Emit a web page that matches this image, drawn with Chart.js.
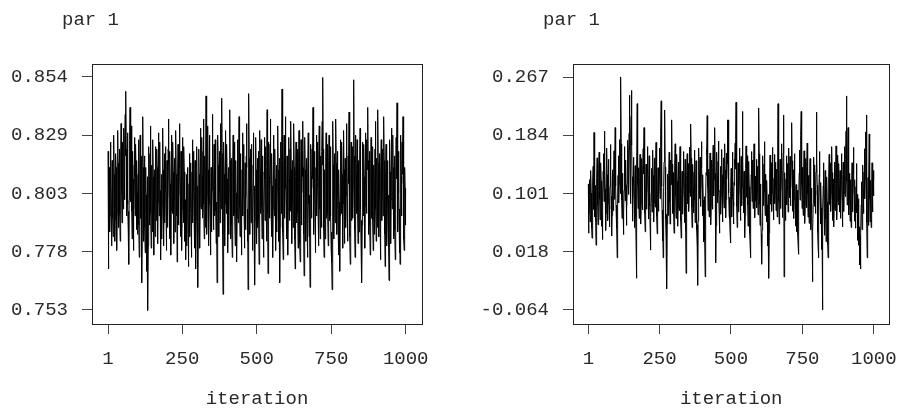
<!DOCTYPE html>
<html>
<head>
<meta charset="utf-8">
<script src="https://cdn.jsdelivr.net/npm/chart.js@4.4.1/dist/chart.umd.min.js"></script>
<style>
  html, body { margin: 0; padding: 0; background: #ffffff; }
  body { width: 911px; height: 408px; position: relative; overflow: hidden; }
  canvas { position: absolute; top: 0; }
</style>
</head>
<body>
<canvas id="c1" width="455" height="408" style="left:0px"></canvas>
<canvas id="c2" width="456" height="408" style="left:455px"></canvas>
<script>
// ---- data ----
const panelTitles = ["par 1", "par 1"];
const xTitle = "iteration";
const xTicks = [1, 250, 500, 750, 1000];
const xTickLabels = ["1", "250", "500", "750", "1000"];

const yTicksLeft = [0.7532, 0.7785, 0.8037, 0.8290, 0.8542];
const yTickLabelsLeft = ["0.753", "0.778", "0.803", "0.829", "0.854"];
const yTicksRight = [-0.0641, 0.0186, 0.1014, 0.1841, 0.2669];
const yTickLabelsRight = ["-0.064", "0.018", "0.101", "0.184", "0.267"];

const traceLeft = [
0.822,0.771,0.790,0.806,0.815,0.801,0.787,0.794,0.812,0.826,0.809,0.796,0.781,0.799,0.818,0.811,0.793,0.785,0.803,0.820,
0.829,0.812,0.797,0.783,0.792,0.808,0.821,0.815,0.798,0.786,0.779,0.795,0.811,0.831,0.817,0.802,0.789,0.806,0.823,0.810,
0.795,0.783,0.800,0.819,0.834,0.822,0.805,0.791,0.808,0.826,0.813,0.797,0.815,0.832,0.819,0.801,0.811,0.829,0.838,0.820,
0.848,0.823,0.807,0.794,0.812,0.830,0.818,0.799,0.787,0.796,0.773,0.801,0.819,0.827,0.841,0.816,0.800,0.812,0.833,0.814,
0.796,0.784,0.803,0.822,0.810,0.792,0.779,0.797,0.816,0.828,0.811,0.794,0.806,0.825,0.813,0.788,0.799,0.818,0.804,0.786,
0.791,0.812,0.827,0.808,0.790,0.776,0.795,0.814,0.829,0.809,0.793,0.805,0.820,0.798,0.765,0.788,0.810,0.837,0.815,0.797,
0.783,0.801,0.820,0.806,0.789,0.778,0.796,0.815,0.803,0.784,0.770,0.792,0.811,0.797,0.753,0.781,0.806,0.824,0.809,0.790,
0.802,0.821,0.833,0.812,0.795,0.780,0.799,0.816,0.804,0.787,0.808,0.827,0.811,0.793,0.777,0.796,0.814,0.800,0.785,0.805,
0.824,0.810,0.792,0.806,0.823,0.815,0.797,0.782,0.800,0.818,0.830,0.813,0.794,0.808,0.826,0.805,0.788,0.775,0.795,0.812,
0.800,0.784,0.798,0.817,0.832,0.814,0.796,0.781,0.802,0.821,0.809,0.791,0.805,0.824,0.811,0.793,0.779,0.799,0.818,0.807,
0.789,0.802,0.823,0.836,0.817,0.798,0.784,0.803,0.822,0.808,0.790,0.777,0.796,0.815,0.829,0.811,0.795,0.809,0.826,0.813,
0.797,0.782,0.801,0.819,0.805,0.787,0.800,0.816,0.831,0.812,0.794,0.808,0.774,0.793,0.811,0.825,0.806,0.790,0.803,0.820,
0.834,0.815,0.798,0.785,0.803,0.822,0.810,0.792,0.779,0.797,0.816,0.828,0.809,0.791,0.805,0.824,0.813,0.796,0.783,0.801,
0.787,0.775,0.794,0.812,0.799,0.781,0.796,0.815,0.804,0.786,0.772,0.790,0.808,0.821,0.803,0.785,0.798,0.817,0.806,0.788,
0.776,0.795,0.813,0.827,0.809,0.791,0.805,0.822,0.811,0.793,0.780,0.799,0.818,0.804,0.786,0.771,0.792,0.810,0.824,0.807,
0.790,0.779,0.763,0.788,0.806,0.823,0.812,0.794,0.780,0.798,0.817,0.832,0.815,0.797,0.810,0.828,0.811,0.793,0.804,0.822,
0.836,0.817,0.799,0.784,0.802,0.820,0.806,0.789,0.812,0.846,0.818,0.800,0.786,0.803,0.821,0.833,0.814,0.796,0.781,0.799,
0.816,0.829,0.810,0.792,0.777,0.797,0.815,0.803,0.787,0.805,0.824,0.838,0.819,0.801,0.788,0.807,0.825,0.812,0.794,0.808,
0.827,0.814,0.796,0.782,0.800,0.789,0.765,0.793,0.811,0.829,0.816,0.798,0.785,0.804,0.822,0.809,0.791,0.806,0.834,0.815,
0.797,0.819,0.845,0.821,0.802,0.786,0.760,0.790,0.809,0.826,0.812,0.794,0.781,0.799,0.817,0.831,0.813,0.795,0.808,0.825,
0.810,0.792,0.778,0.797,0.815,0.803,0.786,0.805,0.823,0.840,0.818,0.799,0.784,0.801,0.819,0.807,0.790,0.776,0.796,0.814,
0.829,0.811,0.794,0.808,0.826,0.813,0.795,0.781,0.800,0.818,0.804,0.787,0.774,0.793,0.812,0.827,0.809,0.791,0.806,0.824,
0.837,0.816,0.798,0.785,0.803,0.821,0.808,0.790,0.777,0.796,0.814,0.830,0.812,0.794,0.807,0.825,0.811,0.793,0.780,0.799,
0.817,0.805,0.788,0.802,0.820,0.834,0.815,0.797,0.783,0.795,0.762,0.791,0.812,0.847,0.819,0.801,0.786,0.804,0.823,0.809,
0.791,0.806,0.825,0.812,0.794,0.779,0.798,0.816,0.830,0.811,0.793,0.807,0.788,0.764,0.792,0.810,0.828,0.814,0.796,0.782,
0.801,0.819,0.806,0.789,0.803,0.822,0.792,0.773,0.797,0.815,0.831,0.813,0.795,0.809,0.827,0.816,0.798,0.784,0.802,0.820,
0.807,0.790,0.776,0.795,0.813,0.828,0.810,0.792,0.806,0.824,0.812,0.796,0.783,0.815,0.840,0.818,0.795,0.769,0.791,0.810,
0.826,0.811,0.793,0.808,0.825,0.836,0.817,0.799,0.785,0.803,0.821,0.807,0.789,0.776,0.797,0.815,0.829,0.812,0.794,0.806,
0.823,0.810,0.792,0.779,0.798,0.816,0.804,0.787,0.805,0.822,0.833,0.814,0.796,0.783,0.801,0.819,0.791,0.765,0.789,0.808,
0.826,0.813,0.795,0.818,0.849,0.821,0.802,0.787,0.775,0.796,0.814,0.829,0.811,0.793,0.806,0.824,0.837,0.816,0.798,0.784,
0.802,0.820,0.808,0.790,0.777,0.797,0.815,0.828,0.810,0.792,0.805,0.823,0.812,0.796,0.835,0.814,0.797,0.782,0.800,0.818,
0.806,0.789,0.803,0.821,0.834,0.815,0.798,0.784,0.771,0.793,0.811,0.826,0.809,0.791,0.805,0.823,0.812,0.795,0.780,0.799,
0.817,0.831,0.813,0.796,0.782,0.774,0.794,0.812,0.827,0.808,0.790,0.804,0.822,0.811,0.835,0.815,0.797,0.786,0.768,0.792,
0.810,0.828,0.814,0.797,0.783,0.801,0.819,0.807,0.789,0.776,0.795,0.813,0.830,0.816,0.799,0.785,0.803,0.787,0.763,0.791,
0.809,0.825,0.811,0.793,0.806,0.823,0.810,0.820,0.841,0.818,0.800,0.786,0.804,0.822,0.808,0.791,0.778,0.797,0.815,0.829,
0.812,0.794,0.807,0.826,0.813,0.795,0.781,0.800,0.818,0.833,0.815,0.797,0.784,0.802,0.820,0.806,0.789,0.804,0.822,0.835,
0.816,0.854,0.823,0.805,0.788,0.776,0.796,0.814,0.801,0.784,0.799,0.817,0.830,0.811,0.793,0.807,0.825,0.812,0.795,0.781,
0.800,0.818,0.829,0.810,0.792,0.806,0.824,0.811,0.794,0.779,0.787,0.774,0.762,0.789,0.808,0.835,0.816,0.798,0.784,0.803,
0.821,0.809,0.791,0.805,0.823,0.836,0.817,0.799,0.786,0.804,0.822,0.808,0.790,0.777,0.796,0.814,0.800,0.783,0.770,0.794,
0.812,0.827,0.813,0.795,0.809,0.826,0.812,0.794,0.780,0.799,0.817,0.831,0.814,0.796,0.782,0.801,0.819,0.806,0.789,0.803,
0.821,0.834,0.815,0.797,0.783,0.802,0.820,0.808,0.822,0.839,0.817,0.799,0.785,0.773,0.794,0.812,0.826,0.810,0.792,0.806,
0.824,0.811,0.793,0.807,0.825,0.853,0.820,0.802,0.788,0.776,0.797,0.815,0.829,0.812,0.795,0.809,0.827,0.813,0.796,0.782,
0.800,0.818,0.805,0.787,0.801,0.819,0.832,0.814,0.797,0.783,0.792,0.779,0.765,0.790,0.808,0.826,0.812,0.794,0.807,0.825,
0.811,0.793,0.780,0.798,0.816,0.830,0.812,0.795,0.809,0.827,0.814,0.819,0.841,0.818,0.800,0.786,0.804,0.822,0.808,0.790,
0.777,0.796,0.814,0.828,0.811,0.793,0.806,0.824,0.810,0.792,0.779,0.798,0.816,0.803,0.786,0.805,0.823,0.835,0.815,0.797,
0.783,0.801,0.819,0.806,0.789,0.815,0.840,0.817,0.799,0.785,0.803,0.821,0.808,0.791,0.775,0.795,0.813,0.827,0.809,0.792,
0.805,0.823,0.811,0.794,0.808,0.816,0.837,0.818,0.800,0.786,0.772,0.792,0.810,0.825,0.812,0.795,0.781,0.800,0.818,0.806,
0.789,0.803,0.781,0.766,0.790,0.809,0.827,0.813,0.796,0.782,0.801,0.819,0.832,0.814,0.797,0.811,0.829,0.815,0.798,0.784,
0.802,0.820,0.806,0.788,0.775,0.795,0.813,0.828,0.810,0.822,0.843,0.819,0.801,0.787,0.804,0.822,0.809,0.791,0.778,0.797,
0.773,0.796,0.815,0.829,0.811,0.794,0.808,0.826,0.812,0.819,0.837,0.816,0.798,0.784,0.779,0.797,0.815,0.806,0.790,0.802
];

const traceRight = [
0.115,0.045,0.072,0.098,0.121,0.089,0.061,0.083,0.110,0.134,0.102,0.070,0.052,0.038,0.066,0.094,0.118,0.140,0.107,0.079,
0.188,0.131,0.097,0.068,0.086,0.113,0.062,0.028,0.059,0.091,0.124,0.152,0.118,0.085,0.057,0.076,0.104,0.137,0.160,0.126,
0.093,0.064,0.082,0.112,0.145,0.119,0.088,0.055,0.071,0.036,0.068,0.101,0.133,0.158,0.122,0.090,0.116,0.190,0.141,0.108,
0.076,0.049,0.073,0.105,0.139,0.166,0.128,0.095,0.063,0.087,0.117,0.150,0.119,0.084,0.054,0.079,0.111,0.144,0.171,0.132,
0.098,0.067,0.041,0.070,0.103,0.135,0.109,0.077,0.100,0.131,0.162,0.127,0.093,0.125,0.195,0.148,0.112,0.080,0.058,0.085,
0.052,0.010,0.060,0.094,0.127,0.155,0.120,0.088,0.114,0.147,0.178,0.136,0.101,0.138,0.267,0.172,0.129,0.092,0.066,0.097,
0.130,0.099,0.069,0.043,0.074,0.106,0.140,0.168,0.126,0.091,0.118,0.149,0.113,0.081,0.056,0.084,0.115,0.146,0.177,0.134,
0.100,0.128,0.160,0.187,0.241,0.163,0.121,0.087,0.115,0.180,0.211,0.248,0.170,0.125,0.090,0.062,0.094,0.126,0.153,0.117,
0.083,0.053,0.078,0.110,0.141,0.104,0.068,0.030,-0.019,0.061,0.139,0.229,0.158,0.114,0.080,0.107,0.138,0.099,0.066,0.091,
0.124,0.157,0.119,0.085,0.058,0.086,0.118,0.151,0.113,0.078,0.104,0.136,0.165,0.129,0.162,0.195,0.147,0.108,0.074,0.047,
0.076,0.109,0.143,0.111,0.079,0.103,0.134,0.168,0.132,0.096,0.065,0.090,0.122,0.155,0.116,0.083,0.057,0.037,0.021,0.069,
0.102,0.137,0.107,0.075,0.099,0.131,0.163,0.127,0.093,0.061,0.088,0.120,0.152,0.117,0.082,0.108,0.141,0.174,0.135,0.100,
0.069,0.044,0.072,0.105,0.138,0.106,0.076,0.101,0.133,0.166,0.128,0.094,0.121,0.153,0.185,0.233,0.150,0.112,0.078,0.052,
0.034,0.060,0.010,0.071,0.110,0.146,0.178,0.160,0.220,0.139,0.098,0.065,0.037,0.072,0.030,-0.034,0.058,0.096,0.129,0.101,
0.070,0.095,0.127,0.160,0.123,0.089,0.058,0.084,0.117,0.149,0.114,0.148,0.206,0.143,0.106,0.073,0.099,0.131,0.103,0.071,
0.045,0.074,0.108,0.141,0.172,0.134,0.098,0.066,0.092,0.124,0.157,0.119,0.086,0.055,0.080,0.113,0.146,0.110,0.077,0.103,
0.136,0.168,0.130,0.095,0.063,0.038,0.067,0.100,0.133,0.105,0.072,0.097,0.129,0.161,0.126,0.091,0.060,0.086,0.118,0.150,
0.113,0.049,-0.012,0.055,0.093,0.127,0.158,0.121,0.087,0.112,0.144,0.109,0.076,0.102,0.135,0.167,0.131,0.097,0.140,0.200,
0.152,0.116,0.082,0.053,0.079,0.111,0.143,0.107,0.074,0.099,0.132,0.163,0.127,0.092,0.060,0.085,0.117,0.148,0.111,0.078,
0.050,0.025,0.057,-0.029,0.062,0.101,0.134,0.166,0.129,0.094,0.120,0.153,0.118,0.083,0.109,0.142,0.175,0.138,0.103,0.070,
0.096,0.128,0.092,0.059,0.033,0.064,0.097,0.068,0.035,-0.017,0.052,0.094,0.131,0.163,0.127,0.158,0.212,0.149,0.111,0.077,
0.104,0.136,0.101,0.068,0.094,0.126,0.159,0.123,0.088,0.057,0.083,0.116,0.149,0.112,0.079,0.105,0.138,0.170,0.132,0.098,
0.124,0.157,0.121,0.195,0.130,0.062,0.003,0.056,0.092,0.125,0.160,0.122,0.088,0.114,0.147,0.176,0.139,0.103,0.071,0.045,
0.073,0.106,0.140,0.105,0.072,0.098,0.131,0.164,0.128,0.093,0.061,0.087,0.119,0.152,0.115,0.081,0.107,0.140,0.172,0.135,
0.100,0.067,0.093,0.126,0.159,0.122,0.151,0.206,0.144,0.171,0.206,0.140,0.102,0.070,0.096,0.065,0.046,0.031,0.069,0.104,
0.137,0.101,0.068,0.094,0.127,0.160,0.124,0.089,0.058,0.084,0.117,0.150,0.113,0.141,0.173,0.136,0.178,0.231,0.155,0.117,
0.083,0.053,0.079,0.112,0.145,0.109,0.075,0.101,0.134,0.166,0.130,0.095,0.063,0.089,0.121,0.154,0.118,0.084,0.110,0.158,
0.218,0.146,0.108,0.074,0.100,0.133,0.098,0.065,0.039,0.070,0.104,0.137,0.169,0.131,0.096,0.122,0.155,0.119,0.085,0.055,
0.081,0.114,0.147,0.111,0.077,0.045,0.030,0.010,0.058,0.095,0.128,0.161,0.125,0.090,0.116,0.149,0.113,0.080,0.106,0.139,
0.172,0.135,0.100,0.067,0.093,0.126,0.091,0.117,0.150,0.114,0.081,0.107,0.140,0.104,0.071,0.097,0.150,0.223,0.158,0.120,
0.086,0.056,0.082,0.115,0.078,0.044,0.022,0.001,0.049,0.088,0.122,0.155,0.119,0.084,0.110,0.143,0.175,0.138,0.103,0.070,
0.096,0.129,0.094,0.061,0.087,0.120,0.085,0.053,0.027,0.061,0.100,0.067,-0.019,0.045,0.089,0.123,0.156,0.120,0.086,0.112,
0.145,0.109,0.076,0.102,0.135,0.167,0.131,0.096,0.064,0.090,0.123,0.157,0.121,0.087,0.113,0.146,0.110,0.077,0.103,0.136,
0.101,0.068,0.094,0.152,0.229,0.163,0.124,0.090,0.058,0.084,0.117,0.150,0.114,0.080,0.106,0.139,0.172,0.135,0.100,0.067,
0.093,0.126,0.159,0.184,0.213,-0.017,0.062,0.098,0.131,0.096,0.063,0.089,0.122,0.155,0.119,0.085,0.111,0.144,0.108,0.075,
0.101,0.134,0.166,0.130,0.095,0.121,0.154,0.118,0.084,0.110,0.143,0.170,0.202,0.148,0.110,0.076,0.102,0.135,0.099,0.066,
0.092,0.125,0.158,0.122,0.087,0.055,0.081,0.114,0.079,0.047,0.073,0.106,0.072,0.043,0.029,0.015,0.058,0.097,0.130,0.163,
0.127,0.092,0.118,0.151,0.184,0.218,0.153,0.114,0.080,0.106,0.139,0.104,0.070,0.096,0.129,0.162,0.126,0.091,0.059,0.085,
0.118,0.151,0.115,0.081,0.107,0.140,0.173,0.136,0.101,0.068,0.094,0.127,0.092,0.059,0.085,0.118,0.151,0.115,0.081,0.050,
0.076,0.109,0.074,0.041,0.012,-0.024,0.048,0.087,0.120,0.153,0.117,0.083,0.109,0.142,0.106,0.073,0.099,0.132,0.165,0.217,
0.151,0.113,0.079,0.046,0.026,0.010,0.057,0.095,0.128,0.161,0.125,0.090,0.058,0.084,0.117,0.081,0.048,0.022,0.040,-0.064,
0.036,0.078,0.112,0.145,0.109,0.075,0.042,0.068,0.101,0.134,0.099,0.065,0.033,0.059,0.092,0.125,0.089,0.056,0.029,0.010,
0.054,0.091,0.124,0.157,0.121,0.086,0.112,0.145,0.109,0.076,0.102,0.135,0.168,0.131,0.096,0.063,0.089,0.122,0.087,0.054,
0.080,0.113,0.146,0.110,0.077,0.103,0.136,0.169,0.132,0.097,0.064,0.090,0.123,0.156,0.120,0.085,0.111,0.144,0.108,0.075,
0.101,0.134,0.099,0.066,0.092,0.125,0.158,0.122,0.087,0.054,0.080,0.113,0.146,0.110,0.076,0.102,0.135,0.168,0.131,0.097,
0.123,0.156,0.190,0.240,0.162,0.119,0.085,0.111,0.148,0.195,0.140,0.104,0.071,0.097,0.130,0.095,0.062,0.088,0.121,0.086,
0.053,0.079,0.112,0.145,0.109,0.075,0.101,0.134,0.167,0.130,0.095,0.062,0.088,0.121,0.086,0.052,0.078,0.111,0.144,0.108,
0.074,0.100,0.067,0.035,0.061,0.094,0.060,0.028,0.054,0.025,0.000,0.041,0.018,-0.006,0.046,0.085,0.118,0.083,0.050,0.076,
0.109,0.142,0.106,0.073,0.099,0.132,0.165,0.128,0.094,0.121,0.155,0.189,0.150,0.213,0.120,0.060,0.010,0.052,0.090,0.124,
0.089,0.056,0.120,0.186,0.130,0.094,0.061,0.087,0.120,0.086,0.053,0.079,0.112,0.145,0.109,0.075,0.101,0.134,0.098,0.120
];

// ---- rendering ----
const FONT = "'Liberation Mono', 'Courier New', 'DejaVu Sans Mono', monospace";
const TEXT = "#2a2a2a";

function makeChart(canvasId, values, yTicks, yLabels, yMin, yMax, title, areaLeft, areaRight, canvasW, titleX) {
  const pts = values.map((v, i) => ({ x: i + 1, y: v }));
  const boxPlugin = {
    id: 'boxAndTitle',
    afterDraw(chart) {
      const { ctx, chartArea: a } = chart;
      ctx.save();
      ctx.strokeStyle = '#222222';
      ctx.lineWidth = 1;
      ctx.strokeRect(Math.round(a.left) + 0.5, Math.round(a.top) + 0.5,
                     Math.round(a.right - a.left), Math.round(a.bottom - a.top));
      ctx.fillStyle = TEXT;
      ctx.font = "19px " + FONT;
      ctx.textAlign = 'left';
      ctx.textBaseline = 'alphabetic';
      ctx.fillText(title, titleX, 24.5);
      ctx.restore();
    }
  };
  return new Chart(document.getElementById(canvasId), {
    type: 'line',
    data: {
      datasets: [{
        data: pts,
        borderColor: '#000000',
        borderWidth: 1,
        pointRadius: 0,
        tension: 0,
        fill: false
      }]
    },
    options: {
      responsive: false,
      animation: false,
      devicePixelRatio: 1,
      parsing: false,
      layout: { padding: { top: 64, left: 0, right: canvasW - areaRight, bottom: 0 } },
      plugins: { legend: { display: false }, tooltip: { enabled: false }, title: { display: false } },
      scales: {
        x: {
          type: 'linear',
          min: -52.7,
          max: 1054.7,
          afterFit(s) { s.height = 84; },
          afterBuildTicks(s) { s.ticks = xTicks.map(v => ({ value: v })); },
          grid: { display: true, drawOnChartArea: false, drawTicks: true, tickLength: 10, color: '#444444' },
          border: { display: false },
          ticks: {
            autoSkip: false, maxRotation: 0, padding: 14, color: TEXT,
            font: { family: FONT, size: 19 },
            callback: (v, i) => xTickLabels[i]
          },
          title: {
            display: true, text: xTitle, color: TEXT,
            font: { family: FONT, size: 19, lineHeight: 1 },
            padding: { top: 0, bottom: 0 }
          }
        },
        y: {
          type: 'linear',
          min: yMin,
          max: yMax,
          afterFit(s) { s.width = areaLeft; },
          afterBuildTicks(s) { s.ticks = yTicks.map(v => ({ value: v })); },
          grid: { display: true, drawOnChartArea: false, drawTicks: true, tickLength: 10, color: '#444444' },
          border: { display: false },
          ticks: {
            autoSkip: false, padding: 14, color: TEXT,
            font: { family: FONT, size: 19 },
            callback: (v, i) => yLabels[i]
          }
        }
      }
    },
    plugins: [boxPlugin]
  });
}

makeChart('c1', traceLeft, yTicksLeft, yTickLabelsLeft, 0.747131, 0.859835, panelTitles[0], 92, 422, 455, 62);
makeChart('c2', traceRight, yTicksRight, yTickLabelsRight, -0.083989, 0.285368, panelTitles[1], 118, 448, 456, 88);
</script>
</body>
</html>
